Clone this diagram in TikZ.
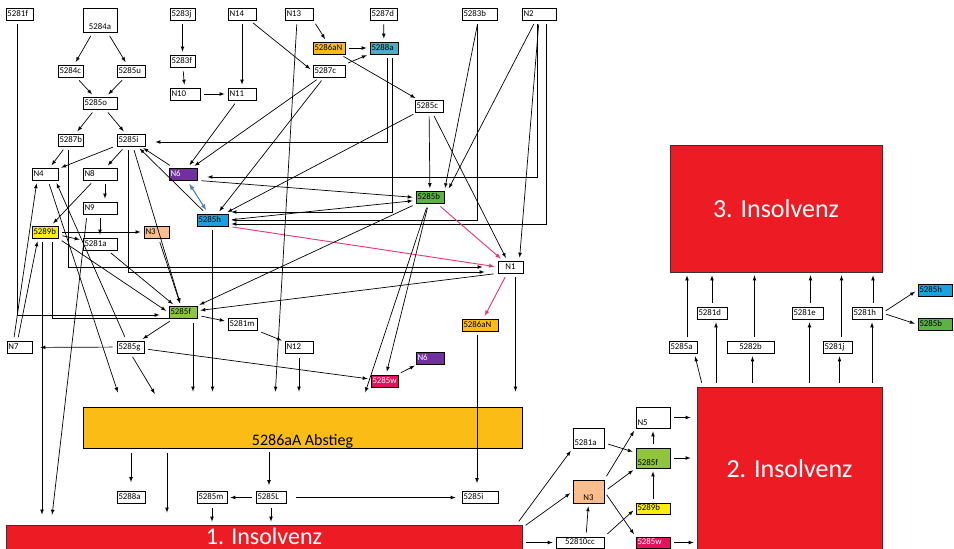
\documentclass[tikz,border=0pt]{standalone}
\usepackage{fontspec}
\setmainfont{Carlito}
\usetikzlibrary{arrows}
\definecolor{insred}{RGB}{237,28,36}
\definecolor{abstor}{RGB}{251,188,22}
\definecolor{aquabox}{RGB}{75,172,198}
\definecolor{skybox}{RGB}{28,161,222}
\definecolor{purplebox}{RGB}{112,48,160}
\definecolor{greenbox}{RGB}{92,178,68}
\definecolor{limebox}{RGB}{142,196,64}
\definecolor{peachbox}{RGB}{250,190,142}
\definecolor{yellowbox}{RGB}{250,238,10}
\definecolor{berrybox}{RGB}{228,18,92}
\definecolor{pinkline}{RGB}{240,50,110}
\definecolor{steelline}{RGB}{79,129,189}

\begin{document}
\begin{tikzpicture}[x=1pt,y=-1pt,
  box/.style={draw, line width=0.8pt, inner xsep=1.5pt, inner ysep=1pt, minimum height=12pt,
    text height=6.3pt, text depth=1.8pt, align=left, font=\fontsize{8.8}{10}\selectfont},
  tall/.style={text height=#1},
  flat/.style={minimum height=11pt, inner ysep=0.5pt},
  ins/.style={draw=black!80, line width=0.8pt, fill=insred, text=white, inner sep=0pt,
    font=\fontsize{26}{30}\selectfont},
  ar/.style={-latex, line width=0.7pt, shorten <=4pt, shorten >=3pt},
  pk/.style={ar, draw=pinkline, line width=0.9pt},
  bl/.style={latex-latex, draw=steelline, line width=1.1pt, shorten <=4pt, shorten >=4pt},
  toab/.style={ar, shorten >=15pt}]
\clip (0,0) rectangle (954,549);

% big blocks
\node[draw, line width=0.8pt, fill=abstor, minimum width=439pt, minimum height=41pt, inner sep=0pt,
  text height=38pt, text depth=3pt, font=\fontsize{16}{18}\selectfont] (abstieg) at (302.5,427.5) {5286aA Abstieg};
\node[draw=black!80, line width=0.8pt, fill=insred, minimum width=516pt, minimum height=35pt] (ins1) at (264,542.5) {};
\node[text=white, inner sep=0pt, font=\fontsize{24}{28}\selectfont, anchor=base] (ins1txt) at (264,544) {1. Insolvenz};
\node[ins, minimum width=185pt, minimum height=163pt] (ins2) at (789.5,468.5) {2. Insolvenz};
\node[ins, minimum width=212pt, minimum height=127pt] (ins3) at (776,208.5) {3. Insolvenz};

% upper part
\node[box, text width=24pt] (n5281f) at (19.5,14) {5281f};
\node[box, text width=31pt, tall=20.2pt, align=center] (n5284a) at (100,20) {5284a};
\node[box, text width=22pt] (n5283j) at (182.5,14) {5283j};
\node[box, text width=25pt] (nN14) at (242,14) {N14};
\node[box, text width=25pt] (nN13) at (299,14) {N13};
\node[box, text width=24pt] (n5287d) at (383.5,14) {5287d};
\node[box, text width=32pt] (n5283b) at (479.5,14) {5283b};
\node[box, text width=31pt] (nN2) at (539,14) {N2};
\node[box, text width=29pt, fill=abstor] (n5286aN) at (329,48) {5286aN};
\node[box, text width=25pt, fill=aquabox] (n5288a) at (384,48) {5288a};
\node[box, text width=22pt] (n5284c) at (70.5,71) {5284c};
\node[box, text width=25pt] (n5285u) at (131,71) {5285u};
\node[box, text width=22pt] (n5283f) at (182.5,61) {5283f};
\node[box, text width=29pt] (n5287c) at (329,71) {5287c};
\node[box, text width=27pt] (nN10) at (185,94) {N10};
\node[box, text width=25pt] (nN11) at (242,94) {N11};
\node[box, text width=31pt] (n5285o) at (100,103) {5285o};
\node[box, text width=25pt] (n5285c) at (429,106) {5285c};
\node[box, text width=22pt] (n5287b) at (70.5,140) {5287b};
\node[box, text width=25pt] (n5285i) at (131,140) {5285i};
\node[box, text width=23pt] (nN4) at (45,174) {N4};
\node[box, text width=31pt] (nN8) at (100,174) {N8};
\node[box, text width=25pt, fill=purplebox, text=white] (nN6) at (183,174) {N6};
\node[box, text width=31pt] (nN9) at (100,208) {N9};
\node[box, text width=23pt, fill=yellowbox] (n5289b) at (45,232) {5289b};
\node[box, text width=31pt] (n5281a) at (100,244) {5281a};
\node[box, text width=22pt, fill=peachbox] (nN3) at (156.5,232) {N3};
\node[box, text width=28pt, fill=skybox] (n5285h) at (212.5,220) {5285h};
\node[box, text width=25pt, fill=greenbox] (n5285b) at (430,197.5) {5285b};
\node[box, text width=22pt, align=center] (nN1) at (510.5,267) {N1};
\node[box, text width=25pt, fill=limebox] (n5285f) at (183,312.5) {5285f};
\node[box, text width=26pt] (n5281m) at (242.5,324.5) {5281m};
\node[box, text width=33pt, fill=abstor] (n5286aNb) at (480,325) {5286aN};
\node[box, text width=22pt] (nN7) at (19.5,347.5) {N7};
\node[box, text width=24pt] (n5285g) at (130.5,347) {5285g};
\node[box, text width=25pt] (nN12) at (299,347.5) {N12};
\node[box, text width=25pt, fill=purplebox, text=white] (nN6b) at (430,358) {N6};
\node[box, text width=24pt, fill=berrybox, text=white] (n5285w) at (384.5,381) {5285w};

% lower part
\node[box, text width=25pt] (n5288ab) at (131,497.5) {5288a};
\node[box, text width=27pt] (n5285m) at (212,497.5) {5285m};
\node[box, text width=27pt] (n5285L) at (271,497.5) {5285L};
\node[box, text width=33pt] (n5285ib) at (480,497.5) {5285i};

% right part
\node[box, text width=28pt, tall=16.2pt] (n5281ar) at (588.5,438) {5281a};
\node[box, text width=31pt, tall=17.2pt] (nN5) at (653,417.5) {N5};
\node[box, text width=31pt, tall=16.2pt, fill=limebox] (n5285fr) at (653,458) {5285f};
\node[box, text width=28pt, tall=19.2pt, align=center, fill=peachbox] (nN3r) at (588.5,491.5) {N3};
\node[box, flat, text width=31pt, fill=yellowbox] (n5289br) at (653,508.5) {5289b};
\node[box, flat, text width=45pt, align=center] (n52810cc) at (580,542.5) {52810cc};
\node[box, flat, text width=31pt, fill=berrybox, text=white] (n5285wr) at (653,542.5) {5285w};
\node[box, text width=25pt] (n5285ar) at (683,347) {5285a};
\node[box, text width=27pt] (n5281d) at (712,313) {5281d};
\node[box, text width=44pt, align=center] (n5282b) at (750.5,347) {5282b};
\node[box, text width=28pt] (n5281e) at (807.5,313) {5281e};
\node[box, text width=26pt] (n5281j) at (837.5,347) {5281j};
\node[box, text width=27pt] (n5281h) at (867,313) {5281h};
\node[box, text width=31pt, fill=skybox] (n5285hr) at (935,290) {5285h};
\node[box, text width=31pt, fill=greenbox] (n5285br) at (935,324.5) {5285b};

% top left tree
\draw[ar] (n5284a) -- (n5284c);
\draw[ar] (n5284a) -- (n5285u);
\draw[ar] (n5284c) -- (n5285o);
\draw[ar] (n5285u) -- (n5285o);
\draw[ar] (n5285o) -- (n5287b);
\draw[ar] (n5285o) -- (n5285i);
\draw[ar] (n5287b) -- (nN4);
\draw[ar] (n5285i) -- (nN4);
\draw[ar] (n5285i) -- (nN8);
\draw[ar] (n5283j) -- (n5283f);
\draw[ar] (n5283f) -- (nN10);
\draw[ar] (nN10) -- (nN11);
\draw[ar] (nN14) -- (nN11);
\draw[ar] (nN14) -- (n5287c.west);
\draw[ar] (nN13.south east) -- (n5286aN.110);
\draw[ar] (n5287d) -- (n5288a);
\draw[ar] (n5286aN) -- (n5288a);
\draw[ar] (n5287c) -- (n5288a);
\draw[ar] (n5286aN) -- (n5285c);
\draw[ar] (nN11) -- (nN6);
\draw[ar] (n5287c) -- (nN6);
\draw[ar] (n5287c) -- (n5285h);
\draw[ar] (n5285c) -- (n5285h);
\draw[ar] (n5285c) -- (n5285b);
\draw[ar] (n5283b) -- (n5285b.north east);
\draw[ar] (nN2) -- ([xshift=3pt]n5285b.north east);
\draw[ar] (nN2.south) -- ([xshift=-4pt]nN1.north east);
\draw[ar] (n5285c) -- (nN1);

% elbows on the right
\draw[ar, shorten >=10pt] ([xshift=3pt]n5288a.south) |- ([yshift=-2pt]n5285i.east);
\draw[ar, shorten >=10pt] ([xshift=-2pt]nN2.south) |- ([yshift=-3pt]nN6.east);
\draw[ar] ([xshift=8pt]n5288a.south) |- ([yshift=8pt]n5285h.east);
\draw[ar] ([xshift=-2pt]n5283b.south) |- (n5285h.east);
\draw[ar] ([xshift=7pt]nN2.south) |- ([yshift=-4pt]n5285h.east);

\draw[ar] (nN6.south east) -- (n5285b.west);
\draw[ar] (n5285h.east) -- ([yshift=-3pt]n5285b.west);
\draw[pk] (n5285h.south east) -- (nN1.west);
\draw[pk] (n5285b) -- (nN1);
\draw[pk] (nN1) -- (n5286aNb);
\draw[ar] (nN1.south west) -- (n5285f);
\draw[toab] ([xshift=5pt]nN1.south) -- ([xshift=5pt]nN1.south |- abstieg.north);
\draw[ar] (n5285b) -- (n5285f);
\draw[ar] (n5285b) -- (n5285w);
\draw[toab] (n5285b) -- ([xshift=58pt]abstieg.north);
\draw[ar] (n5285w) -- (nN6b);
\draw[ar] (n5285g) -- (n5285w);
\draw[toab] (nN12) -- (nN12 |- abstieg.north);
\draw[ar] (n5281m) -- (nN12);
\draw[ar] (n5285f) -- (n5281m);
\draw[ar] (n5285f) -- (n5285g);
\draw[toab] ([xshift=10pt]n5285f.south) -- ([xshift=10pt]n5285f.south |- abstieg.north);
\draw[toab] ([xshift=-2pt]nN13.south) -- ([xshift=-28pt]abstieg.north);
\draw[toab] (n5285h) -- (n5285h |- abstieg.north);
\draw[toab] ([xshift=3pt]nN4.south) -- ([xshift=-180pt]abstieg.north);
\draw[ar] ([xshift=-4pt]n5285g.north) -- ([xshift=-3pt]nN4.south east);
\draw[toab] (n5285g.south) -- ([xshift=-140pt]abstieg.north);
\draw[ar, shorten >=8pt] (n5285g) -- (nN7);
\draw[ar] ([xshift=-6pt]nN7.north) -- ([xshift=-8pt]nN4.south);
\draw[ar] ([xshift=-2pt]nN7.north) -- ([xshift=-7pt]n5289b.south);
\draw[ar, shorten >=9pt] ([xshift=-2pt]n5281f.south) |- ([yshift=-2.5pt]n5285f.west);
\draw[line width=0.7pt, shorten <=4pt] ([xshift=7pt]n5289b.south) |- ([yshift=-6pt]n5285f.west);
\draw[ar, shorten >=10pt] ([xshift=-3pt]n5289b.south) -- ([xshift=-3pt]n5289b.south |- ins1.north);
\draw[ar, shorten >=10pt] ([xshift=-13pt]nN9.south) -- ([xshift=-213pt]ins1.north);
\draw[ar] (n5289b.east) -- (nN3.west);
\draw[ar] (n5289b) -- (n5281a);
\draw[ar] (n5289b.south east) -- (n5285f.west);
\draw[ar] (nN8) -- (n5289b);
\draw[ar] ([xshift=5pt]nN8.south) -- ([xshift=5pt]nN9.north);
\draw[ar] (nN9) -- (n5281a);
\draw[ar] (n5281a) -- (n5285f);
\draw[ar] (nN3) -- (n5285f);
\draw[ar] (n5285i) -- (n5285f);
\draw[ar, shorten >=15pt] ([xshift=-2.5pt]n5287b.south) |- (nN1.west);
\draw[ar, shorten >=13pt] ([xshift=-3pt]n5285i.south) |- ([yshift=-5pt]nN1.west);
\draw[ar] (nN6) -- (n5285i);
\draw[ar] (n5285h) -- (n5285i);
\draw[bl] (nN6) -- (n5285h);

% below the Abstieg block
\draw[ar, shorten <=5pt, shorten >=9pt] (n5288ab.north |- abstieg.south) -- (n5288ab);
\draw[ar, shorten <=5pt, shorten >=12pt] ([xshift=-135.5pt]abstieg.south) -- ([xshift=-135.5pt]abstieg.south |- ins1.north);
\draw[ar, shorten >=6pt] ([xshift=-2pt]n5285L.north |- abstieg.south) -- ([xshift=-2pt]n5285L.north);
\draw[ar] (n5285L) -- (n5285m);
\draw[ar, shorten <=10pt, shorten >=6pt] (n5285L) -- (n5285ib);
\draw[ar] (n5285m) -- (n5285m |- ins1.north);
\draw[ar] (n5285L) -- (n5285L |- ins1.north);
\draw[ar, shorten >=8pt] ([xshift=-3pt]n5286aNb.south) -- ([xshift=-3pt]n5285ib.north);

% towards 2. and 3. Insolvenz
\draw[ar] ([xshift=-6pt]ins1.north east) -- (n5281ar.south west);
\draw[ar] ([yshift=-3pt]ins1.north east) -- (nN3r.west);
\draw[ar] (ins1.east) -- (n52810cc.west);
\draw[ar] (n5281ar) -- (n5285fr);
\draw[ar] (nN3r.north east) -- (nN5.south west);
\draw[ar] (nN3r.east) -- (n5285fr.south west);
\draw[ar] (nN3r.east) -- (n5285wr.north west);
\draw[ar] ([xshift=6pt]n52810cc.north) -- (nN3r.south);
\draw[ar] (n52810cc.north east) -- (n5289br.west);
\draw[ar] (n5289br) -- (n5285fr);
\draw[ar] (n5285fr) -- (nN5);
\draw[ar, shorten >=6pt] (nN5.east) -- (nN5.east -| ins2.west);
\draw[ar, shorten >=6pt] (n5285fr.east) -- (n5285fr.east -| ins2.west);
\draw[ar] (n5285wr.east) -- (n5285wr.east -| ins2.west);
\draw[ar] ([xshift=6pt]ins2.north west) -- ([xshift=-3pt]n5285ar.south east);
\draw[ar] ([xshift=4pt]n5285ar.north) -- ([xshift=4pt]n5285ar.north |- ins3.south);
\draw[ar] ([xshift=4pt]n5281d.south |- ins2.north) -- ([xshift=4pt]n5281d.south);
\draw[ar] (n5281d) -- (n5281d |- ins3.south);
\draw[ar] ([xshift=2pt]n5282b.south |- ins2.north) -- ([xshift=2pt]n5282b.south);
\draw[ar] ([xshift=4pt]n5282b.north) -- ([xshift=4pt]n5282b.north |- ins3.south);
\draw[ar] ([xshift=2pt]n5281e.south |- ins2.north) -- ([xshift=2pt]n5281e.south);
\draw[ar] ([xshift=3pt]n5281e.north) -- ([xshift=3pt]n5281e.north |- ins3.south);
\draw[ar] ([xshift=2pt]n5281j.south |- ins2.north) -- ([xshift=2pt]n5281j.south);
\draw[ar] ([xshift=4pt]n5281j.north) -- ([xshift=4pt]n5281j.north |- ins3.south);
\draw[ar] ([xshift=5pt]n5281h.south |- ins2.north) -- ([xshift=5pt]n5281h.south);
\draw[ar] ([xshift=6pt]n5281h.north) -- ([xshift=6pt]n5281h.north |- ins3.south);
\draw[ar] (n5281h.east) -- (n5285hr.west);
\draw[ar] (n5281h.east) -- (n5285br.west);
\end{tikzpicture}
\end{document}
